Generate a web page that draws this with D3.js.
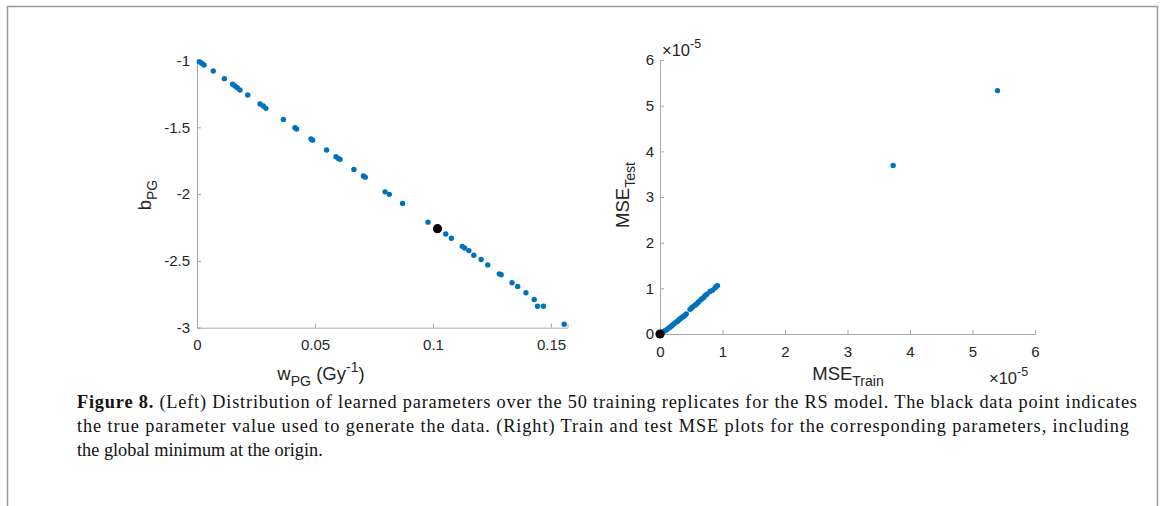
<!DOCTYPE html>
<html>
<head>
<meta charset="utf-8">
<script src="https://cdn.jsdelivr.net/npm/d3@7"></script>
<style>
  html, body { margin: 0; padding: 0; background: #fff; }
  svg { display: block; }
</style>
</head>
<body>
<div id="fig"></div>
<script>
// left panel: learned parameters of the 50 replicates
const wPG = [0.001, 0.002, 0.003, 0.0069, 0.0116, 0.0151, 0.0161, 0.0171, 0.0182, 0.0215,
  0.0267, 0.0281, 0.0292, 0.0366, 0.0415, 0.0422, 0.0483, 0.049, 0.0549, 0.0589,
  0.0599, 0.0606, 0.0665, 0.0705, 0.0713, 0.0797, 0.0815, 0.0871, 0.0979, 0.1054,
  0.1078, 0.1124, 0.1134, 0.1152, 0.1173, 0.1204, 0.1232, 0.1281, 0.1289, 0.1335,
  0.1359, 0.1394, 0.1429, 0.1443, 0.1468, 0.1556];
const bPG = [-1.009, -1.021, -1.034, -1.079, -1.136, -1.178, -1.191, -1.204, -1.221, -1.258,
  -1.326, -1.341, -1.358, -1.441, -1.503, -1.513, -1.588, -1.596, -1.670, -1.720,
  -1.733, -1.740, -1.815, -1.865, -1.873, -1.983, -2.002, -2.070, -2.210, -2.299,
  -2.331, -2.391, -2.403, -2.423, -2.458, -2.490, -2.530, -2.597, -2.604, -2.664,
  -2.691, -2.738, -2.788, -2.840, -2.840, -2.974];
const trueW = 0.1019, trueB = -2.259;

// right panel: train / test MSE
const mseTrain = [0.03e-5, 0.05e-5, 0.08e-5, 0.10e-5, 0.13e-5, 0.16e-5, 0.19e-5, 0.21e-5, 0.24e-5, 0.27e-5,
  0.29e-5, 0.31e-5, 0.33e-5, 0.35e-5, 0.37e-5, 0.40e-5, 0.42e-5, 0.48e-5, 0.50e-5, 0.52e-5,
  0.56e-5, 0.58e-5, 0.61e-5, 0.63e-5, 0.66e-5, 0.67e-5, 0.70e-5, 0.72e-5, 0.75e-5, 0.80e-5,
  0.84e-5, 0.88e-5, 0.90e-5, 0.92e-5, 3.73e-5, 5.40e-5];
const mseTest = [0.02e-5, 0.05e-5, 0.07e-5, 0.09e-5, 0.12e-5, 0.15e-5, 0.18e-5, 0.21e-5, 0.24e-5, 0.27e-5,
  0.29e-5, 0.32e-5, 0.34e-5, 0.36e-5, 0.38e-5, 0.41e-5, 0.44e-5, 0.54e-5, 0.56e-5, 0.59e-5,
  0.63e-5, 0.65e-5, 0.69e-5, 0.72e-5, 0.76e-5, 0.77e-5, 0.80e-5, 0.84e-5, 0.87e-5, 0.93e-5,
  0.96e-5, 1.01e-5, 1.04e-5, 1.06e-5, 3.69e-5, 5.33e-5];
const trueTrain = 0, trueTest = 0;

const wTicks = [0, 0.05, 0.1, 0.15];
const bTicks = [-3, -2.5, -2, -1.5, -1];
const mseTicks = [0, 1e-5, 2e-5, 3e-5, 4e-5, 5e-5, 6e-5];

const caption = [
  [{t: "Figure 8.", b: true}, {t: " (Left) Distribution of learned parameters over the 50 training replicates for the RS model. The black data point indicates"}],
  [{t: "the true parameter value used to generate the data. (Right) Train and test MSE plots for the corresponding parameters, including"}],
  [{t: "the global minimum at the origin."}]
];

const width = 1167, height = 506;
const blue = "#0072bd";
const axisCol = "#a8a8a8", textCol = "#262626";
const sans = "'Liberation Sans', Arial, Helvetica, sans-serif";

const svg = d3.select("#fig").append("svg")
  .attr("width", width).attr("height", height)
  .style("font-family", sans);

// frame round the figure
svg.append("path")
  .attr("d", "M7.5,506V6.5H1157.5V506")
  .attr("fill", "none").attr("stroke", "#9a9a9a").attr("stroke-width", 1.5);

function styleAxis(g) {
  g.select(".domain").attr("stroke", axisCol);
  g.selectAll(".tick line").attr("stroke", axisCol);
  g.selectAll(".tick text").attr("fill", textCol).style("font-size", "15px").style("font-family", sans);
}

// text with sub / superscripts
function rich(g, parts, size) {
  const t = g.append("text").attr("fill", textCol).style("font-size", size + "px");
  let shift = 0;
  parts.forEach(p => {
    const s = p.sub ? 6 : p.sup ? -8 : 0;
    t.append("tspan")
      .attr("dy", s - shift)
      .style("font-size", (p.sub || p.sup ? size * 0.76 : size) + "px")
      .text(p.t);
    shift = s;
  });
  return t;
}

// ---------- left panel ----------
const xL = d3.scaleLinear().domain([0, 0.157]).range([197, 567.5]);
const yL = d3.scaleLinear().domain([-3, -1]).range([327.7, 60.5]);

svg.append("g")
  .attr("transform", `translate(0,${yL(-3)})`)
  .call(d3.axisBottom(xL).tickValues(wTicks).tickSize(-4).tickPadding(12).tickFormat(d => String(d)))
  .call(styleAxis);
svg.append("g")
  .attr("transform", `translate(${xL(0)},0)`)
  .call(d3.axisLeft(yL).tickValues(bTicks).tickSize(-4).tickPadding(7).tickFormat(d => String(d)))
  .call(styleAxis);

svg.append("g")
  .selectAll("circle")
  .data(wPG.map((w, i) => [w, bPG[i]]))
  .join("circle")
  .attr("cx", d => xL(d[0]))
  .attr("cy", d => yL(d[1]))
  .attr("r", 2.7)
  .attr("fill", blue);
svg.append("circle")
  .attr("cx", xL(trueW)).attr("cy", yL(trueB)).attr("r", 4.6).attr("fill", "#000");

rich(svg.append("g").attr("transform", "translate(321,380)"),
  [{t: "w"}, {t: "PG", sub: true}, {t: " (Gy"}, {t: "-1", sup: true}, {t: ")"}], 18.5)
  .attr("text-anchor", "middle");
rich(svg.append("g").attr("transform", "translate(151,195) rotate(-90)"),
  [{t: "b"}, {t: "PG", sub: true}], 18.5)
  .attr("text-anchor", "middle");

// ---------- right panel ----------
const xR = d3.scaleLinear().domain([0, 6e-5]).range([660, 1035]);
const yR = d3.scaleLinear().domain([0, 6e-5]).range([334, 60]);

svg.append("g")
  .attr("transform", `translate(0,${yR(0)})`)
  .call(d3.axisBottom(xR).tickValues(mseTicks).tickSize(-4).tickPadding(12).tickFormat(d => String(Math.round(d / 1e-5))))
  .call(styleAxis);
svg.append("g")
  .attr("transform", `translate(${xR(0)},0)`)
  .call(d3.axisLeft(yR).tickValues(mseTicks).tickSize(-4).tickPadding(6).tickFormat(d => String(Math.round(d / 1e-5))))
  .call(styleAxis);

svg.append("g")
  .selectAll("circle")
  .data(mseTrain.map((m, i) => [m, mseTest[i]]))
  .join("circle")
  .attr("cx", d => xR(d[0]))
  .attr("cy", d => yR(d[1]))
  .attr("r", 2.7)
  .attr("fill", blue);
svg.append("circle")
  .attr("cx", xR(trueTrain)).attr("cy", yR(trueTest)).attr("r", 4.6).attr("fill", "#000");

rich(svg.append("g").attr("transform", "translate(662,56)"),
  [{t: "\u00d710"}, {t: "-5", sup: true}], 16.5);
rich(svg.append("g").attr("transform", "translate(989,384)"),
  [{t: "\u00d710"}, {t: "-5", sup: true}], 16.5);

rich(svg.append("g").attr("transform", "translate(848,380)"),
  [{t: "MSE"}, {t: "Train", sub: true}], 18.5)
  .attr("text-anchor", "middle");
rich(svg.append("g").attr("transform", "translate(629,195) rotate(-90)"),
  [{t: "MSE"}, {t: "Test", sub: true}], 18.5)
  .attr("text-anchor", "middle");

// ---------- caption ----------
const capLen = [1060, 1052, null];
const cap = svg.append("g")
  .style("font-family", "'Liberation Serif', 'Times New Roman', serif")
  .style("font-size", "18.3px")
  .attr("fill", "#111");
caption.forEach((line, i) => {
  const t = cap.append("text").attr("x", 77).attr("y", 408 + i * 24);
  if (capLen[i]) t.attr("textLength", capLen[i]).attr("lengthAdjust", "spacing");
  line.forEach(p => t.append("tspan").attr("font-weight", p.b ? "bold" : null).text(p.t));
});
</script>
</body>
</html>
